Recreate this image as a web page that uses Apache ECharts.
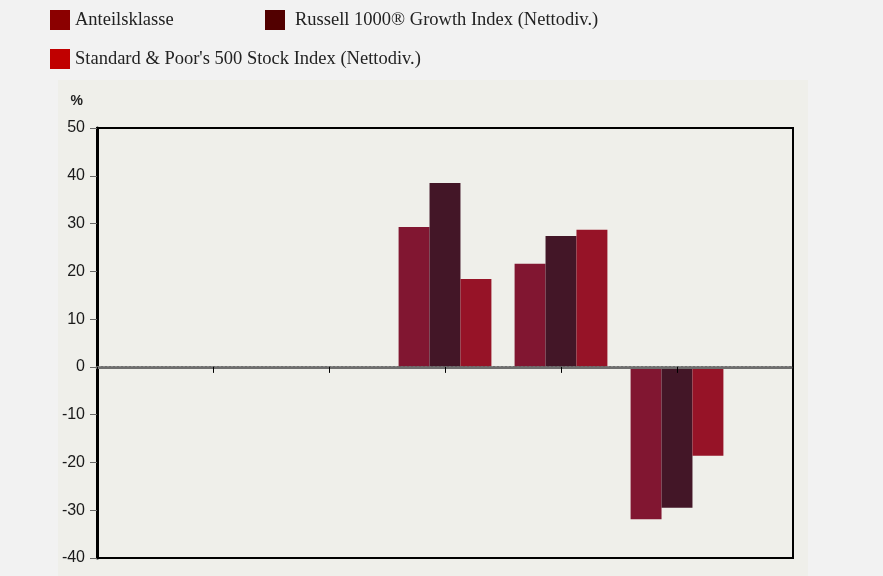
<!DOCTYPE html>
<html>
<head>
<meta charset="utf-8">
<script src="https://cdn.jsdelivr.net/npm/echarts@6/dist/echarts.min.js"></script>
<style>
  html, body { margin: 0; padding: 0; background: #f2f2f2; }
  #chart { width: 883px; height: 576px; }
</style>
</head>
<body>
<div id="chart"></div>
<script>
// Kategorien (Achsenbeschriftungen sind im Original nicht sichtbar)
const categories = ['', 'J1', 'J2', 'J3', 'J4', 'J5', '']
const seriesNames = [
  'Anteilsklasse',
  'Russell 1000® Growth Index (Nettodiv.)',
  "Standard & Poor's 500 Stock Index (Nettodiv.)"
]
const anteilsklasse = [null, null, null, 29.3, 21.6, -31.9, null]
const russell = [null, null, null, 38.5, 27.4, -29.5, null]
const sp500 = [null, null, null, 18.4, 28.7, -18.6, null]

const barColors = ['#811631', '#431627', '#961327']
const legendColors = ['#8b0000', '#520000', '#c00000']

const chart = echarts.init(document.getElementById('chart'))

const legendBase = {
  orient: 'horizontal',
  icon: 'rect',
  padding: 0,
  itemWidth: 20,
  itemHeight: 20,
  itemGap: 6,
  textStyle: { fontFamily: 'Liberation Serif', fontSize: 18.5, color: '#222' },
  selectedMode: false
}

const option = {
  backgroundColor: '#f2f2f2',
  animation: false,
  graphic: [{
    type: 'rect',
    z: -10,
    shape: { x: 58, y: 80, width: 750, height: 496 },
    style: { fill: '#efefea' }
  }],
  legend: [
    Object.assign({}, legendBase, { left: 50, top: 10, data: [{ name: seriesNames[0], itemStyle: { color: legendColors[0] } }] }),
    Object.assign({}, legendBase, {
      left: 265, top: 10,
      textStyle: { fontFamily: 'Liberation Serif', fontSize: 18.5, color: '#222', padding: [0, 0, 0, 5] },
      data: [{ name: seriesNames[1], itemStyle: { color: legendColors[1] } }]
    }),
    Object.assign({}, legendBase, { left: 50, top: 49, data: [{ name: seriesNames[2], itemStyle: { color: legendColors[2] } }] })
  ],
  grid: {
    left: 97, right: 90, top: 128, bottom: 18,
    show: true,
    borderColor: '#000',
    borderWidth: 2,
    backgroundColor: 'transparent'
  },
  xAxis: {
    type: 'category',
    data: categories,
    boundaryGap: false,
    z: 5,
    axisLine: { onZero: true, lineStyle: { color: '#6e6e6e', width: 3, type: [2, 2] } },
    axisTick: { show: true, length: 6, lineStyle: { color: '#000', width: 1 } },
    axisLabel: { show: false },
    splitLine: { show: false }
  },
  yAxis: {
    type: 'value',
    min: -40,
    max: 50,
    interval: 10,
    name: '%',
    nameLocation: 'end',
    nameGap: 20,
    nameTextStyle: { fontFamily: 'Liberation Sans', fontSize: 14, fontWeight: 'bold', color: '#222', align: 'right', padding: [0, 14, 0, 0] },
    axisLine: { show: true, lineStyle: { color: '#000', width: 3 } },
    axisTick: { show: true, length: 7, lineStyle: { color: '#666' } },
    axisLabel: { fontFamily: 'Liberation Sans', fontSize: 16, color: '#1a1a1a', margin: 12 },
    splitLine: { show: false }
  },
  series: [
    { name: seriesNames[0], type: 'bar', data: anteilsklasse, itemStyle: { color: barColors[0] }, barGap: '0%', barCategoryGap: '20%' },
    { name: seriesNames[1], type: 'bar', data: russell, itemStyle: { color: barColors[1] }, barGap: '0%', barCategoryGap: '20%' },
    { name: seriesNames[2], type: 'bar', data: sp500, itemStyle: { color: barColors[2] }, barGap: '0%', barCategoryGap: '20%' }
  ]
}

chart.setOption(option)
</script>
</body>
</html>
